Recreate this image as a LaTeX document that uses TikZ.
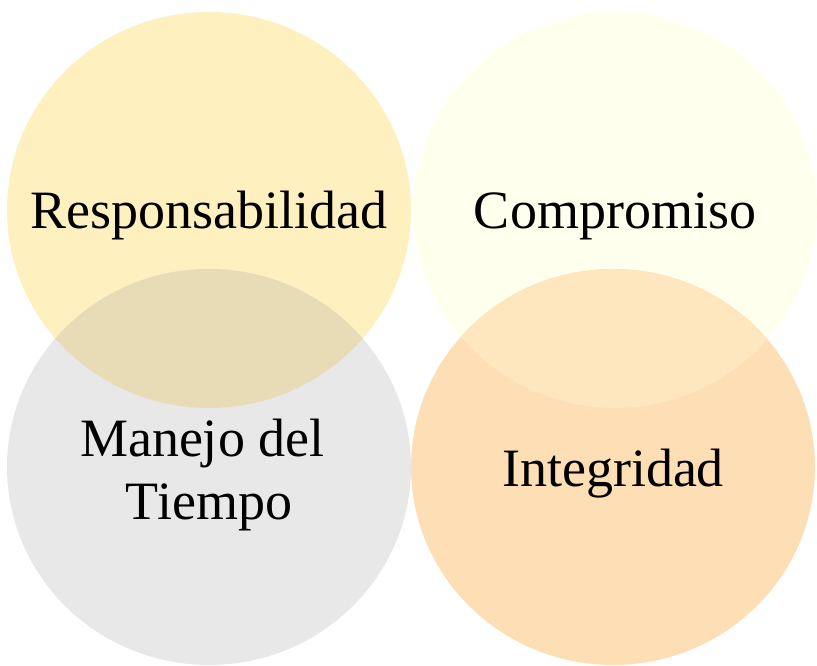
\documentclass[tikz,border=0pt]{standalone}
\usepackage{fontspec}
\setmainfont{Liberation Serif}
\usepackage{tikz}
\usetikzlibrary{shapes.geometric, positioning}
\definecolor{myyellow}{RGB}{254,240,191}
\definecolor{mycream}{RGB}{255,255,238}
\definecolor{mygray}{RGB}{232,232,232}
\definecolor{myorange}{RGB}{253,222,181}
\definecolor{lensleft}{RGB}{232,220,183}
\definecolor{lensright}{RGB}{254,230,191}
\tikzset{
  blob/.style={ellipse, draw=none, minimum width=404pt,
    minimum height=396pt, inner sep=0pt},
  lbl/.style={font=\fontsize{54}{63}\selectfont, text=black,
    align=center, inner sep=0pt}
}

\begin{document}
\begin{tikzpicture}[x=1pt, y=1pt]
  \useasboundingbox (0,0) rectangle (817,666);

  % Circles
  \node[blob, fill=myyellow] (resp) at (209, 456) {};
  \node[blob, fill=mycream] (comp) at (615, 456) {};
  \node[blob, fill=mygray] (tiempo) at (209, 199) {};
  \node[blob, fill=myorange] (integ) at (613, 199) {};

  % Overlaps
  \begin{scope}
    \clip (resp.center) ellipse [x radius=202, y radius=198];
    \fill[lensleft] (tiempo.center) ellipse [x radius=202, y radius=198];
  \end{scope}
  \begin{scope}
    \clip (comp.center) ellipse [x radius=201, y radius=198];
    \fill[lensright] (integ.center) ellipse [x radius=202, y radius=198];
  \end{scope}

  % Labels
  \node[lbl, anchor=base] (resplbl) at ([yshift=-19pt]resp.center) {Responsabilidad};
  \node[lbl, anchor=base] (complbl) at ([yshift=-19pt]comp.center) {Compromiso};
  \node[lbl] (tiempolbl) at ([yshift=-8pt]tiempo.center) {Manejo del\hspace*{.25em}\\Tiempo};
  \node[lbl, anchor=base] (integlbl) at ([yshift=-20pt]integ.center) {Integridad};
\end{tikzpicture}
\end{document}
